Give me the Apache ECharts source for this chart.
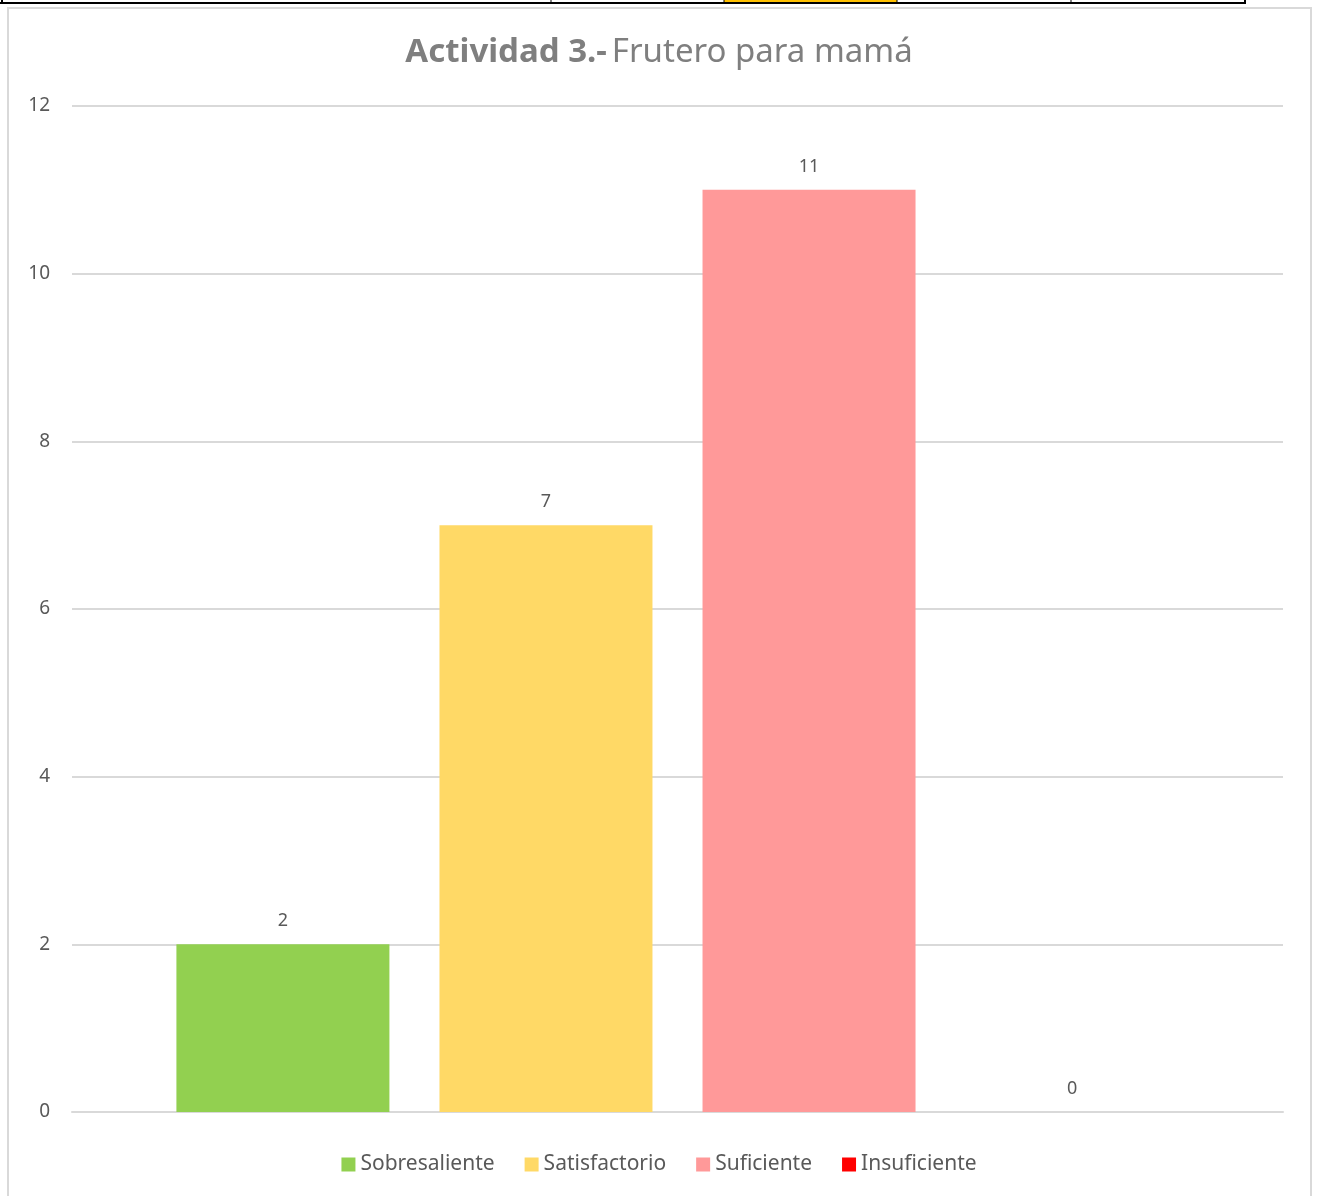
<!DOCTYPE html>
<html>
<head>
<meta charset="utf-8">
<script src="https://cdn.jsdelivr.net/npm/echarts@6/dist/echarts.min.js"></script>
<style>
  html, body { margin: 0; padding: 0; background: #fff; }
  #chart { width: 1318px; height: 1196px; }
</style>
</head>
<body>
<div id="chart"></div>
<script>
// datos de la gráfica
const seriesNames = ['Sobresaliente', 'Satisfactorio', 'Suficiente', 'Insuficiente'];
const values = [2, 7, 11, 0];
const colors = ['#92d050', '#ffd966', '#ff9999', '#ff0000'];
const xCategories = [''];   // una sola categoría, cuatro series
const yTicks = [0, 2, 4, 6, 8, 10, 12];

const chart = echarts.init(document.getElementById('chart'));

// una serie por nivel, lado a lado dentro de la misma categoría
const series = seriesNames.map((name, i) => ({
  name: name,
  type: 'bar',
  data: [values[i]],
  barWidth: 213,
  barGap: '23.5%',
  itemStyle: { color: colors[i] },
  label: {
    show: true,
    position: 'top',
    distance: 14,
    color: '#595959',
    fontSize: 18,
    fontFamily: 'Noto Sans'
  }
}));

const option = {
  animation: false,
  backgroundColor: '#fff',
  title: {
    text: '{b|Actividad 3.-} {n|Frutero para mamá}',
    left: 'center',
    top: 31,
    textStyle: {
      rich: {
        b: { fontSize: 33, fontWeight: 'bold', color: '#7f7f7f', fontFamily: 'Noto Sans' },
        n: { fontSize: 33, fontWeight: 'normal', color: '#7f7f7f', fontFamily: 'Noto Sans' }
      }
    }
  },
  legend: {
    bottom: 16,
    left: 'center',
    icon: 'rect',
    itemWidth: 14,
    itemHeight: 14,
    itemGap: 30,
    textStyle: { color: '#595959', fontSize: 21, fontFamily: 'Noto Sans' },
    data: seriesNames
  },
  grid: { left: 72, right: 35, top: 106, bottom: 84 },
  xAxis: {
    type: 'category',
    data: xCategories,
    axisLine: { show: true, lineStyle: { color: '#d9d9d9', width: 2 } },
    axisTick: { show: false },
    axisLabel: { show: false }
  },
  yAxis: {
    type: 'value',
    min: yTicks[0],
    max: yTicks[yTicks.length - 1],
    interval: 2,
    axisLine: { show: false },
    axisTick: { show: false },
    axisLabel: { color: '#595959', fontSize: 19, margin: 22, fontFamily: 'Noto Sans' },
    splitLine: { lineStyle: { color: '#d9d9d9', width: 2 } }
  },
  graphic: [
    // marco de la gráfica
    { type: 'rect', shape: { x: 8, y: 8, width: 1303, height: 1200 },
      style: { fill: 'none', stroke: '#d9d9d9', lineWidth: 2 }, silent: true },
    // fragmento de la tabla de arriba
    { type: 'rect', shape: { x: 724, y: 0, width: 173, height: 3 }, style: { fill: '#ffc000' } },
    { type: 'line', shape: { x1: 0, y1: 3, x2: 1246, y2: 3 }, style: { stroke: '#000', lineWidth: 2 } },
    { type: 'line', shape: { x1: 2, y1: 0, x2: 2, y2: 4 }, style: { stroke: '#000', lineWidth: 2 } },
    { type: 'line', shape: { x1: 551, y1: 0, x2: 551, y2: 4 }, style: { stroke: '#000', lineWidth: 1 } },
    { type: 'line', shape: { x1: 724, y1: 0, x2: 724, y2: 4 }, style: { stroke: '#000', lineWidth: 1 } },
    { type: 'line', shape: { x1: 897, y1: 0, x2: 897, y2: 4 }, style: { stroke: '#000', lineWidth: 1 } },
    { type: 'line', shape: { x1: 1071, y1: 0, x2: 1071, y2: 4 }, style: { stroke: '#000', lineWidth: 1 } },
    { type: 'line', shape: { x1: 1245, y1: 0, x2: 1245, y2: 4 }, style: { stroke: '#000', lineWidth: 2 } }
  ],
  series: series
};

chart.setOption(option);
</script>
</body>
</html>
